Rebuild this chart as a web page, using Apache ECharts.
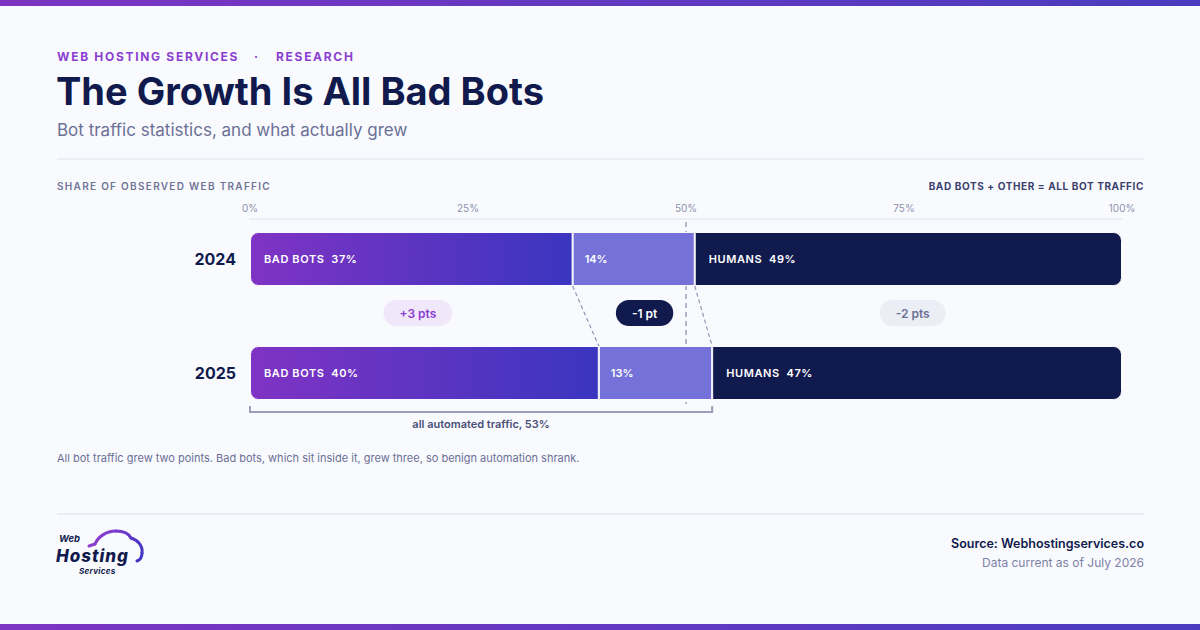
<!DOCTYPE html>
<html>
<head>
<meta charset="utf-8">
<script src="https://cdn.jsdelivr.net/npm/echarts@6/dist/echarts.min.js"></script>
<style>
html, body { margin: 0; padding: 0; background: #f9fafd; }
#chart { width: 1200px; height: 630px; }
#chart text { white-space: pre; }
</style>
</head>
<body>
<div id="chart"></div>
<script>
// data
var years = ['2024', '2025'];
var badBots = [37, 40];
var otherBots = [14, 13];
var humans = [49, 47];
var axisMin = 0, axisMax = 100, axisStep = 25;

var FONT = 'Inter, "Noto Sans", sans-serif';
var BG = '#f9fafd';
var NAVY = '#111a4d';
var BAR_H = 54;

var chart = echarts.init(document.getElementById('chart'), null, { renderer: 'svg' });

function segLabel(prefix) {
    return function (p) { return (prefix ? prefix + '  ' : '') + p.value + '%'; };
}

function labelStyle(prefix, dist) {
    return {
        show: true, position: 'insideLeft', distance: dist,
        formatter: segLabel(prefix),
        color: '#ffffff', fontSize: 11, fontWeight: 600, fontFamily: FONT
    };
}

var option = {
    backgroundColor: BG,
    animation: false,
    grid: { left: 250, right: 78, top: 202, bottom: 200 },
    xAxis: {
        type: 'value', position: 'top', offset: -17,
        min: axisMin, max: axisMax, interval: axisStep,
        axisLine: { show: true, lineStyle: { color: '#eceef5', width: 2 } },
        axisTick: { show: false },
        splitLine: { show: false },
        axisLabel: { formatter: '{value}%', color: '#8d91ae', fontSize: 10, fontFamily: FONT, margin: 6 }
    },
    yAxis: {
        type: 'category', data: years, inverse: true,
        axisLine: { show: false }, axisTick: { show: false },
        axisLabel: { margin: 14, color: NAVY, fontSize: 16, fontWeight: 700, fontFamily: FONT }
    },
    series: [
        {
            name: 'Bad bots', type: 'bar', stack: 'share', barWidth: BAR_H, data: badBots,
            itemStyle: {
                color: new echarts.graphic.LinearGradient(0, 0, 1, 0, [
                    { offset: 0, color: '#8033c4' }, { offset: 1, color: '#3a35bf' }
                ]),
                borderRadius: [8, 0, 0, 8], borderColor: BG, borderWidth: 1
            },
            label: labelStyle('BAD BOTS', 14)
        },
        {
            name: 'Other bots', type: 'bar', stack: 'share', barWidth: BAR_H, data: otherBots,
            itemStyle: { color: '#7472d8', borderColor: BG, borderWidth: 1 },
            label: labelStyle('', 12)
        },
        {
            name: 'Humans', type: 'bar', stack: 'share', barWidth: BAR_H, data: humans,
            itemStyle: { color: NAVY, borderRadius: [0, 8, 8, 0], borderColor: BG, borderWidth: 1 },
            label: labelStyle('HUMANS', 14)
        }
    ]
};
chart.setOption(option);

function txt(x, y, text, font, fill, align, extra) {
    var el = { type: 'text', x: x, y: y, style: { text: text, font: font, fill: fill, align: align || 'left', verticalAlign: 'middle' } };
    if (extra) for (var k in extra) el.style[k] = extra[k];
    return el;
}

function deltaText(a) {
    var d = a[1] - a[0];
    return (d > 0 ? '+' : '') + d + (Math.abs(d) === 1 ? ' pt' : ' pts');
}

function buildGraphics() {
    var pt = function (v, i) { return chart.convertToPixel({ gridIndex: 0 }, [v, i]); };
    var y0 = pt(0, 0)[1], y1 = pt(0, 1)[1];
    var half = BAR_H / 2;
    var g = [];

    // top and bottom bands
    var band = new echarts.graphic.LinearGradient(0, 0, 1, 0, [
        { offset: 0, color: '#7c35c2' }, { offset: 1, color: '#4a3cc0' }
    ]);
    g.push({ type: 'rect', shape: { x: 0, y: 0, width: 1200, height: 6 }, style: { fill: band } });
    g.push({ type: 'rect', shape: { x: 0, y: 624, width: 1200, height: 6 }, style: { fill: band } });

    // header
    g.push(txt(57, 56, 'WEB HOSTING SERVICES', '700 12px ' + FONT, '#8b3fd0'));
    g.push(txt(256, 56, '·', '700 12px ' + FONT, '#8b3fd0', 'center'));
    g.push(txt(276, 56, 'RESEARCH', '700 12px ' + FONT, '#8b3fd0'));
    g.push(txt(56, 91, 'The Growth Is All Bad Bots', '700 38px ' + FONT, NAVY));
    g.push(txt(57, 130, 'Bot traffic statistics, and what actually grew', '400 17px ' + FONT, '#6b7096'));
    g.push({ type: 'rect', shape: { x: 57, y: 158, width: 1087, height: 2 }, style: { fill: '#eceef5' } });

    g.push(txt(57, 186, 'SHARE OF OBSERVED WEB TRAFFIC', '600 10px ' + FONT, '#6f7497'));
    g.push(txt(1144, 186, 'BAD BOTS + OTHER = ALL BOT TRAFFIC', '700 10px ' + FONT, '#3b406e', 'right'));

    // 50% reference line
    var x50 = pt(50, 0)[0];
    g.push({ type: 'line', z: 1, shape: { x1: x50, y1: 222, x2: x50, y2: y1 + half + 4 },
        style: { stroke: '#b4b7cd', lineWidth: 2, lineDash: [5, 4] } });

    // connectors between segment boundaries
    var cuts = [
        [badBots[0], badBots[1]],
        [badBots[0] + otherBots[0], badBots[1] + otherBots[1]]
    ];
    cuts.forEach(function (c) {
        var a = pt(c[0], 0), b = pt(c[1], 1);
        g.push({ type: 'line', z: 1, shape: { x1: a[0], y1: y0 + half, x2: b[0], y2: y1 - half },
            style: { stroke: '#9396b5', lineWidth: 1.2, lineDash: [4, 3] } });
    });

    // change pills, centred on each segment across both years
    var groups = [
        { data: badBots, start: [0, 0], bg: '#f1e7fb', fg: '#8a3fd1' },
        { data: otherBots, start: badBots, bg: NAVY, fg: '#ffffff' },
        { data: humans, start: [badBots[0] + otherBots[0], badBots[1] + otherBots[1]], bg: '#eceef5', fg: '#6b7096' }
    ];
    var pillY = (y0 + y1) / 2 - 3;
    groups.forEach(function (s) {
        var m0 = pt(s.start[0] + s.data[0] / 2, 0)[0];
        var m1 = pt(s.start[1] + s.data[1] / 2, 1)[0];
        g.push(txt((m0 + m1) / 2, pillY, deltaText(s.data), '600 12px ' + FONT, s.fg, 'center',
            { backgroundColor: s.bg, padding: [7, 16], borderRadius: 13 }));
    });

    // bracket for all automated traffic in the latest year
    var total = badBots[1] + otherBots[1];
    var bx0 = pt(0, 1)[0], bx1 = pt(total, 1)[0];
    var by = y1 + half + 12;
    g.push({ type: 'polyline', shape: { points: [[bx0, by - 6], [bx0, by], [bx1, by], [bx1, by - 6]] },
        style: { stroke: '#9a9eba', lineWidth: 2, fill: null } });
    g.push(txt((bx0 + bx1) / 2, by + 12, 'all automated traffic, ' + total + '%', '600 11px ' + FONT, '#4a4f78', 'center'));

    g.push(txt(57, 458, 'All bot traffic grew two points. Bad bots, which sit inside it, grew three, so benign automation shrank.',
        '400 11px ' + FONT, '#6b7096'));

    // footer
    g.push({ type: 'rect', shape: { x: 57, y: 513, width: 1087, height: 2 }, style: { fill: '#eceef5' } });

    // logo: cloud outline + wordmark
    var cloud = new echarts.graphic.LinearGradient(90, 530, 143, 562, [
        { offset: 0, color: '#9a3fd2' }, { offset: 1, color: '#3a35bf' }
    ], true);
    var cloudStyle = { stroke: cloud, lineWidth: 3, lineCap: 'round', fill: null };
    g.push({ type: 'line', shape: { x1: 89, y1: 546, x2: 95, y2: 544 }, style: cloudStyle });
    [
        [95, 544, 98, 537, 106, 531, 116, 531],
        [116, 531, 124, 531, 129, 534, 131, 538],
        [131, 538, 138, 540, 143, 546, 142, 553],
        [142, 553, 142, 557, 140, 560, 137, 561]
    ].forEach(function (c) {
        g.push({ type: 'bezierCurve', shape: { x1: c[0], y1: c[1], cpx1: c[2], cpy1: c[3], cpx2: c[4], cpy2: c[5], x2: c[6], y2: c[7] },
            style: cloudStyle });
    });
    g.push(txt(59, 538.5, 'Web', 'italic 700 9.5px ' + FONT, NAVY));
    g.push(txt(56, 555.5, 'Hosting', 'italic 800 17px ' + FONT, NAVY));
    g.push(txt(79, 571, 'Services', 'italic 700 8px ' + FONT, NAVY));

    g.push(txt(1144, 543, 'Source: Webhostingservices.co', '600 12.5px ' + FONT, NAVY, 'right'));
    g.push(txt(1144, 562, 'Data current as of July 2026', '400 12px ' + FONT, '#7d82a8', 'right'));

    chart.setOption({ graphic: { elements: g.map(function (e) { e.silent = true; return e; }) } });
}

// letter spacing for the tracked caps labels (SVG text)
function spacingFor(s) {
    if (s === 'WEB HOSTING SERVICES' || s === 'RESEARCH') return '1.7px';
    if (s === 'SHARE OF OBSERVED WEB TRAFFIC') return '1.3px';
    if (s === 'BAD BOTS + OTHER = ALL BOT TRAFFIC') return '0.6px';
    if (s === 'Hosting') return '1px';
    if (s === 'Services') return '0.3px';
    if (/^(BAD BOTS|HUMANS)\s/.test(s)) return '0.6px';
    return '';
}
chart.on('finished', function () {
    chart.getDom().querySelectorAll('text').forEach(function (t) {
        var sp = spacingFor(t.textContent);
        if (sp) t.style.letterSpacing = sp;
    });
});

buildGraphics();
</script>
</body>
</html>
